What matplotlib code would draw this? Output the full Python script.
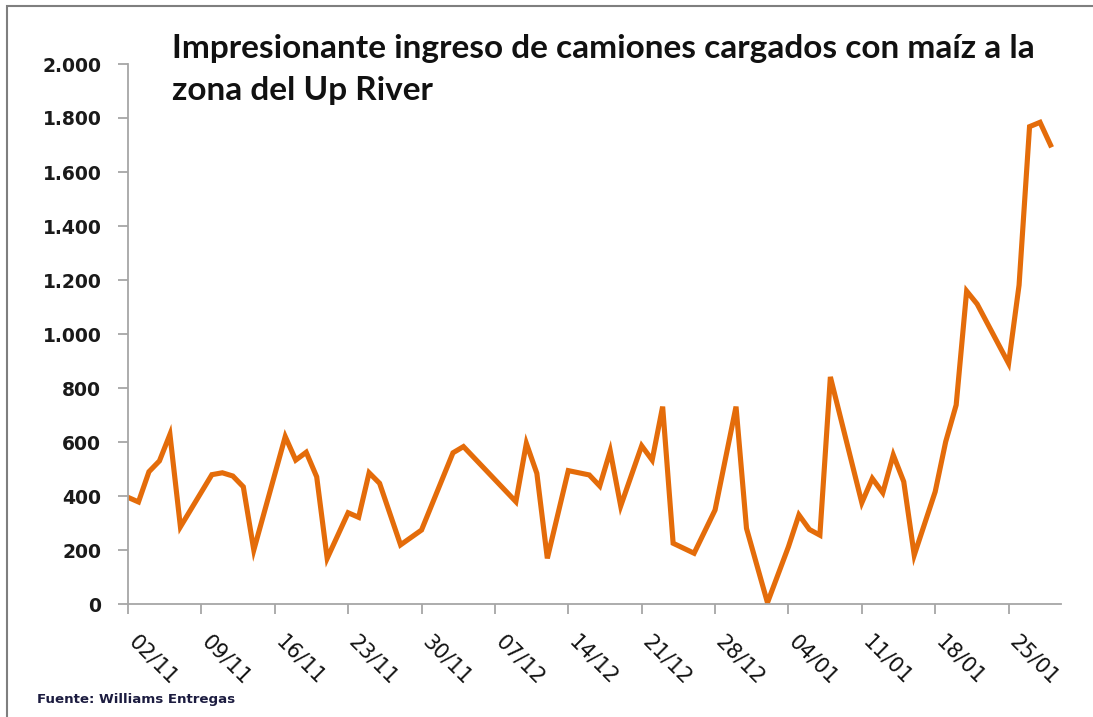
import matplotlib
matplotlib.use("Agg")
import matplotlib.pyplot as plt
import matplotlib.dates as mdates
import matplotlib.transforms as mtransforms
import pandas as pd
from matplotlib.patches import Rectangle

# ---- data -------------------------------------------------------------------
fechas = [
    "2020-11-02", "2020-11-03", "2020-11-04", "2020-11-05", "2020-11-06",
    "2020-11-07", "2020-11-10", "2020-11-11", "2020-11-12", "2020-11-13",
    "2020-11-14", "2020-11-17", "2020-11-18", "2020-11-19", "2020-11-20",
    "2020-11-21", "2020-11-23", "2020-11-24", "2020-11-25", "2020-11-26",
    "2020-11-28", "2020-11-30", "2020-12-03", "2020-12-04", "2020-12-09",
    "2020-12-10", "2020-12-11", "2020-12-12", "2020-12-14", "2020-12-16",
    "2020-12-17", "2020-12-18", "2020-12-19", "2020-12-21", "2020-12-22",
    "2020-12-23", "2020-12-24", "2020-12-26", "2020-12-28", "2020-12-30",
    "2020-12-31", "2021-01-02", "2021-01-04", "2021-01-05", "2021-01-06",
    "2021-01-07", "2021-01-08", "2021-01-11", "2021-01-12", "2021-01-13",
    "2021-01-14", "2021-01-15", "2021-01-16", "2021-01-18", "2021-01-19",
    "2021-01-20", "2021-01-21", "2021-01-22", "2021-01-25", "2021-01-26",
    "2021-01-27", "2021-01-28", "2021-01-29",
]
camiones = [
    395, 378, 490, 530, 628, 286, 479, 486, 474, 434,
    200, 620, 533, 562, 471, 169, 338, 321, 486, 447,
    219, 274, 560, 583, 379, 595, 484, 169, 494, 478,
    437, 567, 363, 586, 533, 731, 225, 188, 348, 731,
    280, 5, 212, 330, 276, 255, 841, 375, 465, 412,
    552, 453, 181, 416, 601, 737, 1159, 1111, 891, 1181,
    1768, 1784, 1700,
]
yticks = [0, 200, 400, 600, 800, 1000, 1200, 1400, 1600, 1800, 2000]
titulo1 = "Impresionante ingreso de camiones cargados con maíz a la"
titulo2 = "zona del Up River"
fuente = "Fuente: Williams Entregas"

fechas = pd.to_datetime(fechas)
inicio = fechas[0]
xticks = pd.date_range(inicio, periods=13, freq="7D")

W, H = 1093, 717
fig = plt.figure(figsize=(W / 100, H / 100), dpi=100)
ax = fig.add_axes([128 / W, 1 - 604 / H, (1061 - 128) / W, (604 - 64) / H])

ax.plot(fechas, camiones, color="#E46C0A", lw=3.7, solid_joinstyle="miter")

ax.set_xlim(inicio, inicio + pd.Timedelta(days=89))
ax.set_ylim(0, 2000)
ax.set_yticks(yticks)
ax.set_yticklabels([f"{v:,}".replace(",", ".") for v in yticks],
                   fontsize=13.5, fontweight="bold", color="#1a1a1a",
                   family="DejaVu Sans")
ax.set_xticks(xticks)
ax.xaxis.set_major_formatter(mdates.DateFormatter("%d/%m"))

grey = "#a6a6a6"
for side in ("top", "right"):
    ax.spines[side].set_visible(False)
for side in ("left", "bottom"):
    ax.spines[side].set_color(grey)
    ax.spines[side].set_linewidth(1.3)
ax.tick_params(axis="both", color=grey, width=1.3, length=7.2)
ax.tick_params(axis="y", pad=12)
ax.tick_params(axis="x", pad=13)

shift = mtransforms.ScaledTranslation(11 / 100, 0, fig.dpi_scale_trans)
for lab in ax.get_xticklabels():
    lab.set_rotation(-45)
    lab.set_ha("left")
    lab.set_va("top")
    lab.set_rotation_mode("anchor")
    lab.set_fontsize(15)
    lab.set_family("DejaVu Sans")
    lab.set_color("#111111")
    lab.set_transform(lab.get_transform() + shift)

fig.text(172 / W, 1 - 58 / H, titulo1, fontsize=24, fontweight="bold",
         va="baseline", ha="left", color="#111111", family="Lato")
fig.text(172 / W, 1 - 100 / H, titulo2, fontsize=24, fontweight="bold",
         va="baseline", ha="left", color="#111111", family="Lato")
fig.text(37 / W, 1 - 703 / H, fuente, fontsize=9.6, fontweight="bold",
         va="baseline", ha="left", color="#1c1c40", family="DejaVu Sans")

# thin frame around the chart area (cut off at right and bottom)
fig.patches.append(Rectangle((7 / W, -0.05), 1.05, 1 - 6 / H + 0.05,
                             transform=fig.transFigure, fill=False,
                             edgecolor="#7f7f7f", lw=1.5))

fig.savefig("out.png", dpi=100)
